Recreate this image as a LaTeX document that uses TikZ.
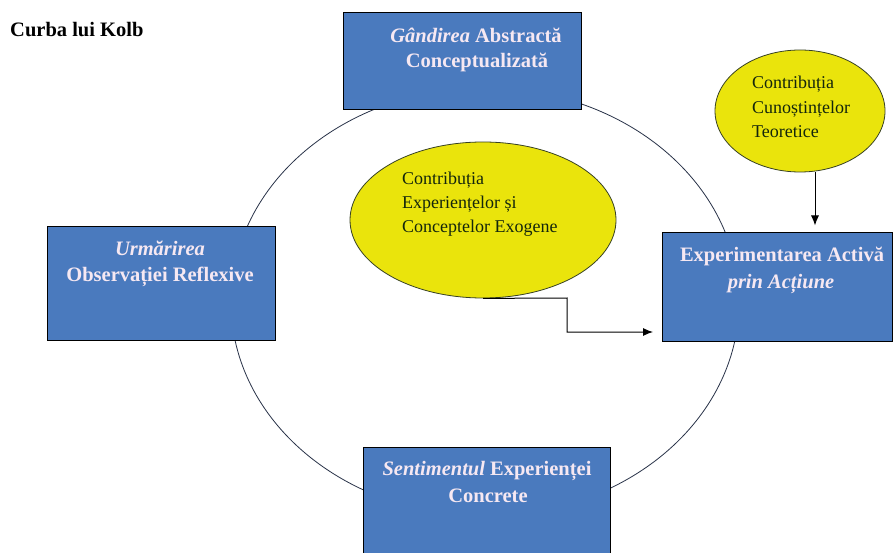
\documentclass[tikz,border=0pt]{standalone}
\usepackage{fontspec}
\setmainfont{Liberation Serif}
\usetikzlibrary{shapes.geometric,arrows.meta}
\definecolor{boxblue}{RGB}{74,122,190}
\definecolor{boxtext}{RGB}{246,232,242}
\definecolor{bubblefill}{RGB}{234,228,12}
\definecolor{bubbleline}{RGB}{55,65,35}
\definecolor{bubbletext}{RGB}{20,38,12}
\definecolor{ringline}{RGB}{40,50,72}
\begin{document}
\begin{tikzpicture}[x=1pt,y=-1pt,
  stagebox/.style={draw=black, line width=1pt, fill=boxblue, rectangle, inner sep=0pt},
  stagetext/.style={text=boxtext, font=\fontsize{20.5}{25}\selectfont\bfseries, anchor=base, inner sep=0pt},
  bubble/.style={ellipse, draw=bubbleline, line width=0.8pt, fill=bubblefill, inner sep=0pt},
  bubbletxt/.style={text=bubbletext, font=\fontsize{18}{24}\selectfont, anchor=base west, inner sep=0pt},
  feed/.style={-{Latex[length=10pt,width=8pt]}, line width=1pt, black}]
\useasboundingbox (0,0) rectangle (893,553);
\fill[white] (0,0) rectangle (893,553);
% title
\node[font=\fontsize{20.5}{25}\selectfont\bfseries, anchor=base west, inner sep=0pt] (title) at (10,37) {Curba lui Kolb};
% ring
\draw[ringline, line width=0.8pt] (485,302) ellipse [x radius=254, y radius=214];
% boxes
\node[stagebox, minimum width=238pt, minimum height=97pt] (abstract) at (462,61.5) {};
\node[stagebox, minimum width=228pt, minimum height=113pt] (reflect) at (161,283.5) {};
\node[stagebox, minimum width=230pt, minimum height=108pt] (active) at (777,287) {};
\node[stagebox, minimum width=247pt, minimum height=115pt] (concrete) at (486.5,504.5) {};
% box texts
\node[stagetext] (abs1) at (476,43) {\textit{Gândirea} Abstractă};
\node[stagetext] (abs2) at (477,68) {Conceptualizată};
\node[stagetext] (ref1) at (160,255) {\textit{Urmărirea}};
\node[stagetext] (ref2) at (160,281) {Observației Reflexive};
\node[stagetext] (act1) at (782,261) {Experimentarea Activă};
\node[stagetext] (act2) at (781,288) {\textit{prin Acțiune}};
\node[stagetext] (con1) at (487,475) {\textit{Sentimentul} Experienței};
\node[stagetext] (con2) at (488,502) {Concrete};
% bubbles
\node[bubble, minimum width=266pt, minimum height=156pt] (exo) at (483,220) {};
\node[bubble, minimum width=170pt, minimum height=122pt] (theory) at (800,111) {};
\node[bubbletxt] (exo1) at (402,185) {Contribuția};
\node[bubbletxt] (exo2) at (402,209) {Experiențelor și};
\node[bubbletxt] (exo3) at (402,233) {Conceptelor Exogene};
\node[bubbletxt] (the1) at (752,89) {Contribuția};
\node[bubbletxt] (the2) at (752,114) {Cunoștințelor};
\node[bubbletxt] (the3) at (752,138) {Teoretice};
% connectors
\coordinate (bend) at (567,298);
\coordinate (exoend) at (653,332);
\draw[feed] (exo.south) -- (bend) |- (exoend);
\coordinate (thtop) at ([xshift=15pt]theory.south);
\draw[feed, shorten >=7pt] (thtop) -- (thtop |- active.north);
\end{tikzpicture}
\end{document}
